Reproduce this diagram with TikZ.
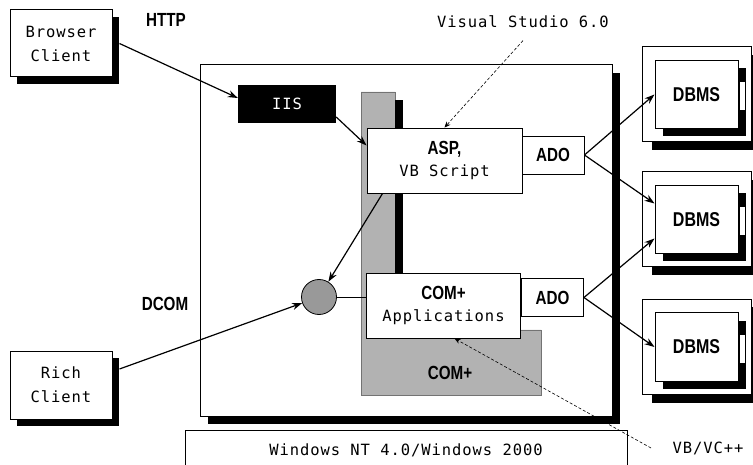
\documentclass[tikz,border=0pt]{standalone}
\usepackage{fontspec}
\usepackage{tikz}
\usetikzlibrary{arrows.meta,positioning,shadows}
\newfontfamily\monofont[LetterSpace=6]{DejaVu Sans Mono}
\newfontfamily\labelfont[FakeStretch=0.8]{Liberation Sans}

\begin{document}
\begin{tikzpicture}[x=1pt, y=-1pt,
    shadowed/.style={drop shadow={fill=black, opacity=1, shadow xshift=7pt, shadow yshift=-7pt}},
    client/.style={rectangle, draw, fill=white, line width=1pt, minimum width=102pt, minimum height=67pt, align=center, font=\monofont\fontsize{15.5}{24}\selectfont, shadowed},
    comp/.style={rectangle, draw, fill=white, line width=0.9pt, inner sep=0pt, align=center, font=\monofont\fontsize{15.5}{22}\selectfont},
    ado/.style={comp, minimum width=62pt, minimum height=38pt, font=\labelfont\bfseries\fontsize{19}{20}\selectfont},
    dbouter/.style={rectangle, draw, fill=white, line width=1pt, minimum width=109pt, minimum height=95pt, drop shadow={fill=black, opacity=1, shadow xshift=10pt, shadow yshift=-8pt}},
    dbinner/.style={rectangle, draw, fill=white, line width=1pt, minimum width=83pt, minimum height=68pt, font=\labelfont\bfseries\fontsize{20}{20}\selectfont, drop shadow={fill=black, opacity=1, shadow xshift=8pt, shadow yshift=-8pt}},
    lbl/.style={font=\labelfont\bfseries\fontsize{19}{20}\selectfont},
    note/.style={font=\monofont\fontsize{15.5}{20}\selectfont},
    link/.style={-{Stealth[length=10pt,width=7pt]}, line width=1.2pt},
    hint/.style={-{Stealth[length=6pt,width=5pt]}, densely dashed, line width=0.6pt}
]
    \useasboundingbox (0,0) rectangle (753,465);

    % Server
    \node[draw, fill=white, line width=1pt, minimum width=412pt, minimum height=351pt,
          drop shadow={fill=black, opacity=1, shadow xshift=8pt, shadow yshift=-8pt}] (server) at (406,240.5) {};
    \node[draw, fill=white, line width=0.8pt, minimum width=442pt, minimum height=40pt, anchor=north, note] (os) at (406,430) {Windows NT 4.0/Windows 2000};

    % COM+ area
    \filldraw[fill=black!30, draw=black!55, line width=0.5pt] (361,92) -- (395,92) -- (395,330) -- (541,330) -- (541,395) -- (361,395) -- cycle;
    \fill (395,100) rectangle (403,330);
    \node[lbl] (complus) at (450,373) {COM+};

    % Components
    \node[comp, minimum width=155pt, minimum height=65pt] (asp) at (444.5,160.5) {{\labelfont\bfseries\fontsize{19}{22}\selectfont ASP,}\\VB Script};
    \node[ado] (ado1) at (553,155) {ADO};
    \node[comp, minimum width=154pt, minimum height=65pt] (apps) at (443.5,305.5) {{\labelfont\bfseries\fontsize{19}{22}\selectfont COM+}\\Applications};
    \node[ado] (ado2) at (552.5,297.5) {ADO};
    \node[rectangle, fill=black, text=white, minimum width=98pt, minimum height=38pt, note] (iis) at (287,104) {IIS};
    \node[circle, draw, fill=black!40, line width=0.8pt, minimum size=35pt, inner sep=0pt] (hub) at (319,297) {};

    % Clients
    \node[client] (browser) at (61,43.5) {Browser\\Client};
    \node[client, minimum height=68pt] (rich) at (61,385) {Rich\\Client};

    % DBMS
    \node[dbouter] (dbbox1) at (696.5,94.5) {};
    \node[dbinner] (db1) at (696.5,94.5) {DBMS};
    \node[dbouter] (dbbox2) at (696.5,219.5) {};
    \node[dbinner] (db2) at (696.5,219.5) {DBMS};
    \node[dbouter] (dbbox3) at (696.5,347) {};
    \node[dbinner] (db3) at (696.5,347) {DBMS};
    \fill[white] (739.6,82.5) rectangle (744.6,110.5);
    \fill[white] (739.6,207.5) rectangle (744.6,235.5);
    \fill[white] (739.6,335) rectangle (744.6,363);

    % Labels
    \node[lbl] (http) at (166,20) {HTTP};
    \node[lbl] (dcom) at (165,304) {DCOM};
    \node[note] (vs) at (523,22) {Visual Studio 6.0};
    \node[note] (vb) at (708,448) {VB/VC++};

    % Links
    \draw[link] ([xshift=7pt]browser.east) -- ([yshift=6pt]iis.west);
    \draw[link] ([yshift=-13pt]iis.east) -- ([yshift=15pt]asp.west);
    \draw[link] ([xshift=16pt]asp.south west) -- (hub);
    \draw[line width=0.8pt] (hub.east) -- (hub.east -| apps.west);
    \draw[link] ([xshift=7pt,yshift=16pt]rich.east) -- (hub);
    \draw[link] (ado1.east) -- (db1.west);
    \draw[link] (ado1.east) -- ([yshift=16pt]db2.west);
    \draw[link] (ado2.east) -- ([yshift=-19pt]db2.west);
    \draw[link] (ado2.east) -- (db3.west);
    \draw[hint] ([yshift=-9pt]vs.south) -- (asp.north);
    \draw[hint] ([xshift=-18pt]vb.west) -- ([xshift=11pt]apps.south);
\end{tikzpicture}
\end{document}
